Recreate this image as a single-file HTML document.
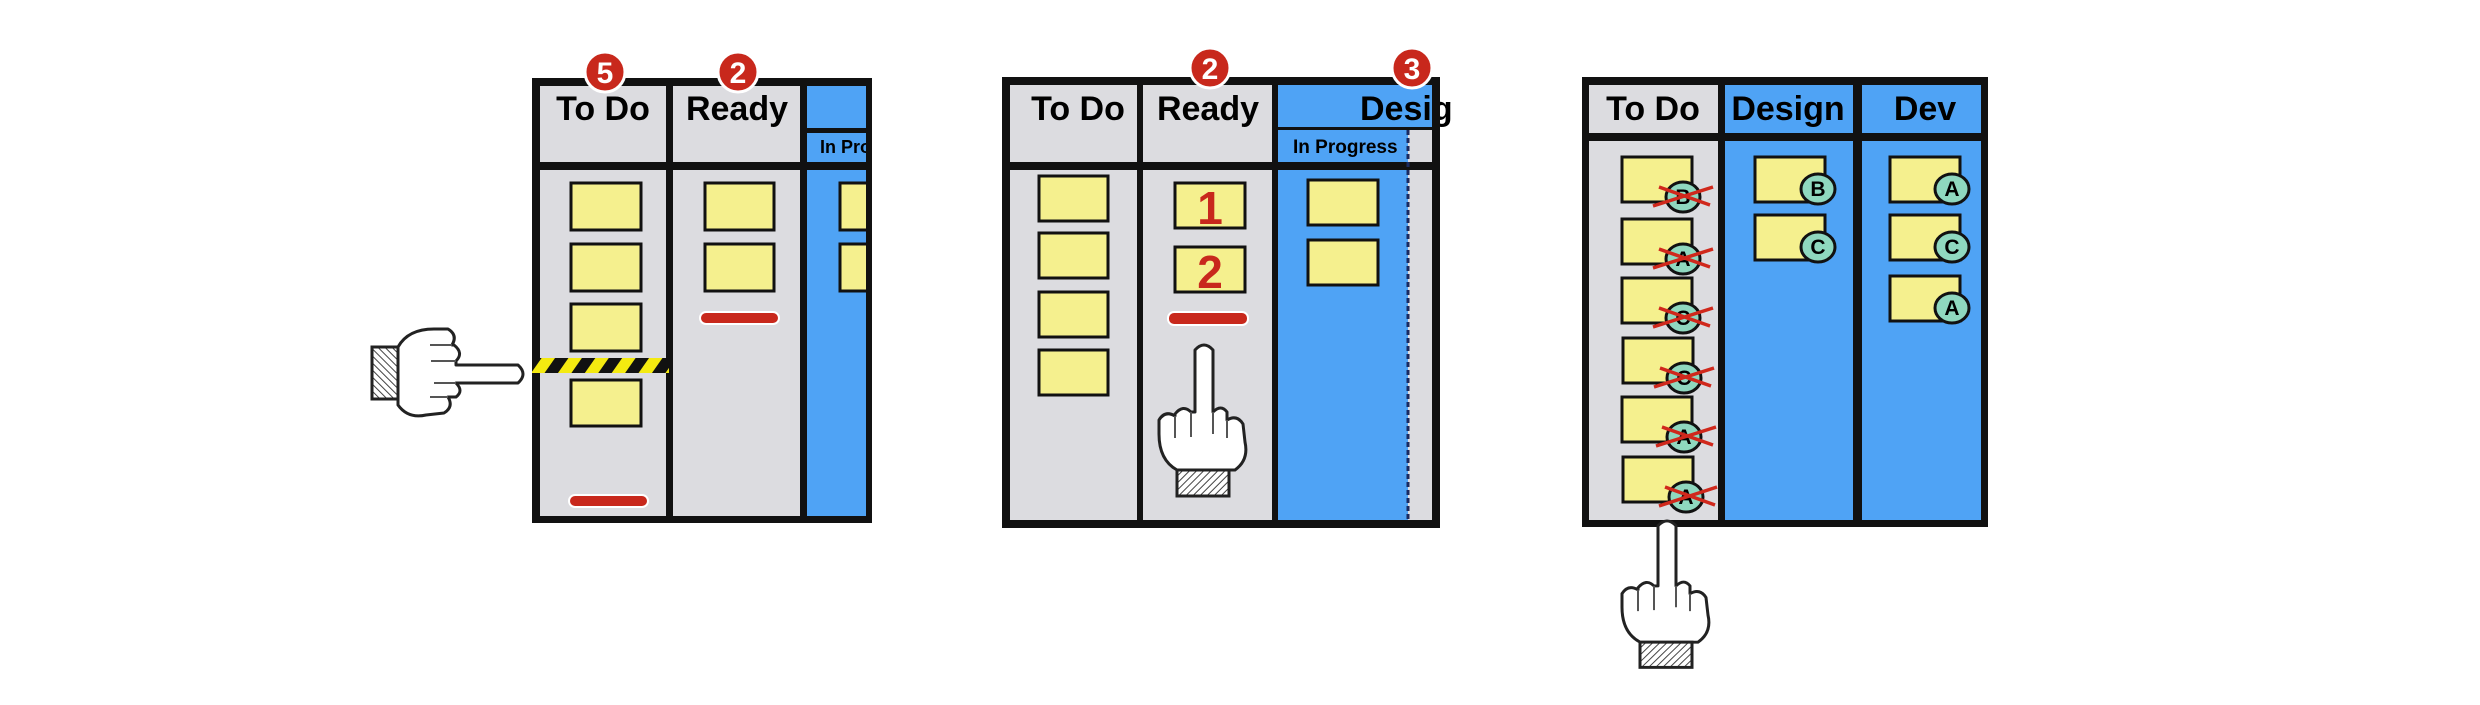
<!DOCTYPE html>
<html><head><meta charset="utf-8"><style>
html,body{margin:0;padding:0;background:#fff;}
svg{display:block;}
text{font-family:"Liberation Sans Narrow","Liberation Sans",sans-serif;font-weight:bold;}
</style></head><body>
<svg width="2480" height="705" viewBox="0 0 2480 705" xmlns="http://www.w3.org/2000/svg">
<defs>
<pattern id="hatch" width="5" height="5" patternUnits="userSpaceOnUse" patternTransform="rotate(45)">
<rect width="5" height="5" fill="#fff"/><line x1="0" y1="0" x2="0" y2="5" stroke="#444" stroke-width="2"/></pattern>
<pattern id="tape" width="22" height="22" patternUnits="userSpaceOnUse" patternTransform="rotate(35)">
<rect width="22" height="22" fill="#f4ea10"/><rect width="11" height="22" fill="#111"/></pattern>
<g id="hand">
<path d="M40,8 Q49,-2 58,8 L58,70 Q66,62 72,70 L72,78 Q82,72 88,82 L90,100 Q94,118 80,128 L22,128 Q4,118 4,92 L4,78 Q10,68 20,74 L20,72 Q28,62 36,70 L40,70 Z" fill="#fff" stroke="#222" stroke-width="3" stroke-linejoin="round"/>
<path d="M36,70 L36,95 M58,70 L58,92 M72,78 L72,96 M20,74 L20,96" stroke="#555" stroke-width="2" fill="none"/>
<rect x="22" y="128" width="52" height="26" fill="url(#hatch)" stroke="#222" stroke-width="3"/>
</g>
</defs>

<!-- ================= BOARD 1 ================= -->
<rect x="532" y="78" width="340" height="445" fill="#111"/>
<rect x="540" y="86" width="126" height="76" fill="#dcdce0"/>
<rect x="673" y="86" width="127" height="76" fill="#dcdce0"/>
<rect x="540" y="170" width="126" height="346" fill="#dcdce0"/>
<rect x="673" y="170" width="127" height="346" fill="#dcdce0"/>
<rect x="807" y="86" width="59" height="42" fill="#4fa3f5"/>
<rect x="807" y="133" width="59" height="29" fill="#4fa3f5"/>
<rect x="807" y="170" width="59" height="346" fill="#4fa3f5"/>
<text x="603" y="120" font-size="34" text-anchor="middle">To Do</text>
<text x="737" y="120" font-size="34" text-anchor="middle">Ready</text>
<text x="820" y="153" font-size="18">In Pro</text>
<circle cx="605" cy="72" r="20" fill="#c8281c" stroke="#fff" stroke-width="3"/>
<text x="605" y="83" font-size="30" fill="#fff" text-anchor="middle">5</text>
<circle cx="738" cy="72" r="20" fill="#c8281c" stroke="#fff" stroke-width="3"/>
<text x="738" y="83" font-size="30" fill="#fff" text-anchor="middle">2</text>
<g fill="#f5f08e" stroke="#111" stroke-width="3">
<rect x="571" y="183" width="70" height="47"/><rect x="571" y="244" width="70" height="47"/>
<rect x="571" y="304" width="70" height="47"/><rect x="571" y="380" width="70" height="46"/>
<rect x="705" y="183" width="69" height="47"/><rect x="705" y="244" width="69" height="47"/>
<rect x="840" y="183" width="40" height="47"/><rect x="840" y="244" width="40" height="47"/>
</g>
<rect x="866" y="78" width="6" height="445" fill="#111"/>
<rect x="872" y="78" width="20" height="445" fill="#fff"/>
<rect x="532" y="358" width="137" height="15" fill="url(#tape)"/>
<rect x="569" y="495" width="79" height="12" rx="6" fill="#c8281c" stroke="#fff" stroke-width="2"/>
<rect x="700" y="312" width="79" height="12" rx="6" fill="#c8281c" stroke="#fff" stroke-width="2"/>
<use href="#hand" transform="translate(526,325) rotate(90) scale(1,1)"/>

<!-- ================= BOARD 2 ================= -->
<rect x="1002" y="77" width="438" height="451" fill="#111"/>
<rect x="1010" y="85" width="127" height="77" fill="#dcdce0"/>
<rect x="1143" y="85" width="129" height="77" fill="#dcdce0"/>
<rect x="1010" y="170" width="127" height="350" fill="#dcdce0"/>
<rect x="1143" y="170" width="129" height="350" fill="#dcdce0"/>
<rect x="1278" y="85" width="154" height="42" fill="#4fa3f5"/>
<rect x="1278" y="130" width="130" height="32" fill="#4fa3f5"/>
<rect x="1408" y="130" width="24" height="32" fill="#dcdce0"/>
<rect x="1278" y="170" width="130" height="350" fill="#4fa3f5"/>
<rect x="1408" y="170" width="24" height="350" fill="#dcdce0"/>
<line x1="1408" y1="130" x2="1408" y2="520" stroke="#1a2a60" stroke-width="3" stroke-dasharray="5,3"/>
<text x="1078" y="120" font-size="34" text-anchor="middle">To Do</text>
<text x="1208" y="120" font-size="34" text-anchor="middle">Ready</text>
<text x="1360" y="120" font-size="34">Desig</text>
<rect x="1432" y="85" width="8" height="77" fill="#111"/>
<text x="1293" y="153" font-size="19">In Progress</text>
<circle cx="1210" cy="68" r="20" fill="#c8281c" stroke="#fff" stroke-width="3"/>
<text x="1210" y="79" font-size="30" fill="#fff" text-anchor="middle">2</text>
<circle cx="1412" cy="68" r="20" fill="#c8281c" stroke="#fff" stroke-width="3"/>
<text x="1412" y="79" font-size="30" fill="#fff" text-anchor="middle">3</text>
<g fill="#f5f08e" stroke="#111" stroke-width="3">
<rect x="1039" y="176" width="69" height="45"/><rect x="1039" y="233" width="69" height="45"/>
<rect x="1039" y="292" width="69" height="45"/><rect x="1039" y="350" width="69" height="45"/>
<rect x="1175" y="183" width="70" height="45"/><rect x="1175" y="247" width="70" height="45"/>
<rect x="1308" y="180" width="70" height="45"/><rect x="1308" y="240" width="70" height="45"/>
</g>
<text x="1210" y="224" font-size="46" fill="#c8281c" text-anchor="middle" font-family="Liberation Sans">1</text>
<text x="1210" y="288" font-size="46" fill="#c8281c" text-anchor="middle" font-family="Liberation Sans">2</text>
<rect x="1168" y="312" width="80" height="13" rx="6" fill="#c8281c" stroke="#fff" stroke-width="2"/>
<use href="#hand" transform="translate(1155,342)"/>

<!-- ================= BOARD 3 ================= -->
<rect x="1582" y="77" width="406" height="450" fill="#111"/>
<rect x="1589" y="85" width="129" height="48" fill="#dcdce0"/>
<rect x="1725" y="85" width="128" height="48" fill="#4fa3f5"/>
<rect x="1862" y="85" width="119" height="48" fill="#4fa3f5"/>
<rect x="1589" y="141" width="129" height="379" fill="#dcdce0"/>
<rect x="1725" y="141" width="128" height="379" fill="#4fa3f5"/>
<rect x="1862" y="141" width="119" height="379" fill="#4fa3f5"/>
<text x="1653" y="120" font-size="34" text-anchor="middle">To Do</text>
<text x="1788" y="120" font-size="34" text-anchor="middle">Design</text>
<text x="1925" y="120" font-size="34" text-anchor="middle">Dev</text>
<g fill="#f5f08e" stroke="#111" stroke-width="3">
<rect x="1622" y="157" width="70" height="45"/><rect x="1622" y="219" width="70" height="45"/>
<rect x="1622" y="278" width="70" height="45"/><rect x="1623" y="338" width="70" height="45"/>
<rect x="1622" y="397" width="70" height="45"/><rect x="1623" y="457" width="70" height="45"/>
<rect x="1755" y="157" width="70" height="45"/><rect x="1755" y="215" width="70" height="45"/>
<rect x="1890" y="157" width="70" height="45"/><rect x="1890" y="215" width="70" height="45"/>
<rect x="1890" y="276" width="70" height="45"/>
</g>
<g stroke="#111" stroke-width="3" fill="#8fd8bf">
<ellipse cx="1683" cy="197" rx="17" ry="15"/><ellipse cx="1683" cy="259" rx="17" ry="15"/>
<ellipse cx="1683" cy="318" rx="17" ry="15"/><ellipse cx="1684" cy="378" rx="17" ry="15"/>
<ellipse cx="1684" cy="437" rx="17" ry="15"/><ellipse cx="1686" cy="497" rx="17" ry="15"/>
<ellipse cx="1818" cy="189" rx="17" ry="15"/><ellipse cx="1818" cy="247" rx="17" ry="15"/>
<ellipse cx="1952" cy="189" rx="17" ry="15"/><ellipse cx="1952" cy="247" rx="17" ry="15"/>
<ellipse cx="1952" cy="308" rx="17" ry="15"/>
</g>
<g font-size="21" text-anchor="middle">
<text x="1683" y="204">B</text><text x="1683" y="266">A</text><text x="1683" y="325">C</text>
<text x="1684" y="385">C</text><text x="1684" y="444">A</text><text x="1686" y="504">A</text>
<text x="1818" y="196">B</text><text x="1818" y="254">C</text>
<text x="1952" y="196">A</text><text x="1952" y="254">C</text><text x="1952" y="315">A</text>
</g>
<g stroke="#d0281c" stroke-width="3.5">
<path d="M1653,206 L1713,187 M1659,187 L1710,205"/>
<path d="M1653,268 L1713,249 M1659,249 L1710,267"/>
<path d="M1653,327 L1713,308 M1659,308 L1710,326"/>
<path d="M1654,387 L1714,368 M1660,368 L1711,386"/>
<path d="M1656,446 L1716,427 M1662,427 L1713,445"/>
<path d="M1659,506 L1717,487 M1665,487 L1715,505"/>
</g>
<use href="#hand" transform="translate(1618,518) scale(1,0.97)"/>
</svg>
</body></html>
